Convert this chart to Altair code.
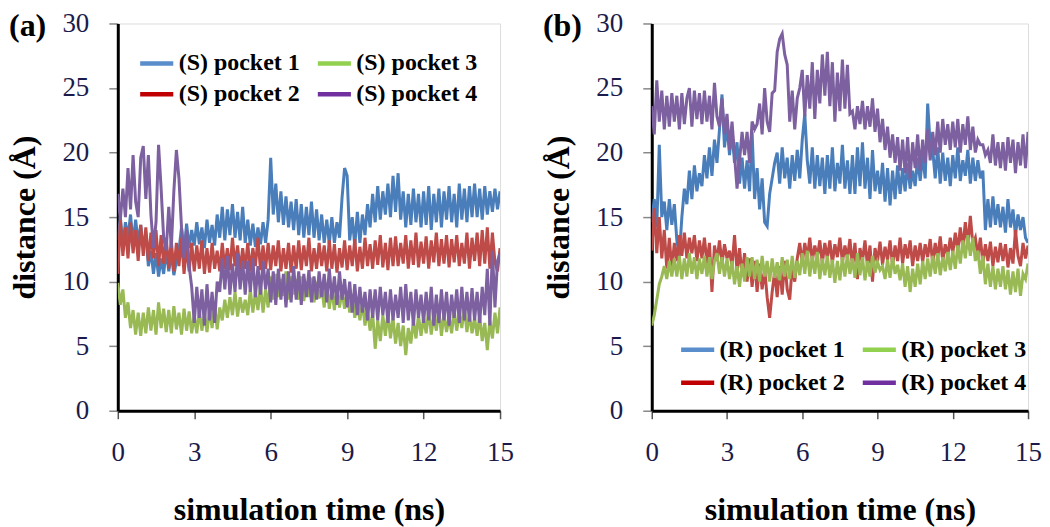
import altair as alt
import pandas as pd

# sampling grid: 0.0 .. 15.0 ns every 0.1 ns (151 samples)
TIME = [round(i * 0.1, 1) for i in range(151)]

# ---------------- panel (a): S enantiomer ----------------
S1 = [13.2,15.0,12.8,14.6,13.4,15.2,12.9,14.8,13.0,14.4,
      12.6,13.8,11.2,12.4,10.6,12.2,10.4,11.8,10.6,12.5,
      10.8,12.2,10.5,11.6,12.4,14.2,12.2,14.5,12.6,14.0,
      12.8,14.6,12.9,14.2,12.6,14.8,13.0,14.4,12.8,15.2,
      13.4,15.8,13.2,15.6,13.6,16.0,13.4,15.4,13.2,15.8,
      13.0,14.8,12.8,14.5,12.7,14.2,12.9,14.6,13.0,14.8,
      19.6,15.2,17.6,14.6,17.0,14.4,16.6,14.2,16.2,14.0,
      16.4,13.6,16.0,13.4,15.8,13.6,16.2,13.4,15.6,13.2,
      15.2,13.0,14.8,12.9,15.0,13.0,14.6,13.4,16.5,18.8,
      18.2,13.2,15.0,12.8,15.4,13.0,15.2,13.6,16.0,14.2,
      16.8,14.6,17.4,14.8,17.0,15.2,17.6,15.0,18.2,15.4,
      18.4,14.8,17.0,14.2,16.8,14.4,17.2,14.6,16.8,14.2,
      17.0,14.4,17.4,14.0,16.8,14.6,17.2,14.2,17.0,14.8,
      17.4,14.6,16.8,14.2,17.6,14.8,17.2,14.6,17.4,15.0,
      17.6,15.0,17.2,14.8,17.4,15.2,17.0,15.4,17.2,15.6,
      17.0]
S2 = [10.6,14.8,12.0,14.2,11.8,14.6,12.2,14.0,11.6,14.4,
      12.0,14.2,11.6,13.8,11.8,14.0,11.2,13.6,11.4,13.4,
      11.0,13.2,10.8,13.0,11.2,13.4,10.6,12.8,10.8,13.0,
      10.8,12.8,11.0,13.2,10.6,12.6,10.7,13.0,11.0,12.4,
      10.8,13.0,11.0,12.6,10.9,13.4,11.2,12.8,10.8,12.6,
      11.0,13.0,10.8,12.6,11.2,13.4,10.9,12.8,11.0,13.0,
      10.9,12.8,11.2,13.2,10.8,12.6,11.0,13.0,10.7,12.8,
      11.0,13.2,10.9,12.8,11.2,13.4,10.8,12.6,11.0,13.0,
      11.2,12.8,10.8,13.2,11.0,12.9,10.7,12.6,11.1,13.2,
      10.9,12.8,11.2,13.3,10.8,12.7,11.0,13.4,11.2,12.9,
      11.0,13.2,11.3,13.6,11.1,13.0,10.9,13.4,11.2,13.5,
      11.2,13.0,11.4,13.6,11.0,13.2,11.3,13.8,11.1,13.1,
      11.4,13.5,11.0,13.2,11.5,13.8,11.2,13.3,11.4,13.6,
      11.1,13.3,11.5,13.6,11.2,13.0,11.4,13.8,11.0,13.4,
      11.6,13.8,11.2,14.0,11.4,14.2,11.0,13.8,11.5,10.8,
      12.6]
S3 = [9.9,8.2,9.4,7.2,8.4,6.4,7.8,5.9,7.6,5.8,
      7.6,6.0,8.0,6.2,7.8,5.9,8.4,6.4,7.9,6.1,
      7.8,6.0,8.1,6.3,7.6,5.9,7.9,6.2,7.7,6.0,
      7.4,6.0,7.8,6.2,7.5,6.1,7.9,6.4,8.2,6.3,
      8.0,7.0,8.6,7.2,8.8,7.4,9.2,7.3,8.8,7.6,
      8.6,7.4,9.4,7.6,9.2,7.8,9.7,7.6,9.4,8.0,
      10.4,8.6,10.6,8.8,10.2,8.9,10.8,8.6,10.4,9.0,
      10.2,8.6,10.4,8.5,10.0,8.8,10.3,8.4,10.0,8.7,
      9.6,8.0,9.9,7.9,9.4,7.8,9.7,8.0,9.3,7.9,
      9.2,7.6,9.0,7.2,8.6,7.0,8.4,6.6,7.8,6.2,
      7.6,4.8,7.0,5.4,7.4,5.8,7.6,5.6,7.2,5.2,
      6.8,5.0,6.6,4.3,6.4,5.2,7.0,5.6,7.4,5.8,
      7.2,6.0,7.8,5.9,7.4,6.2,7.9,5.8,7.5,6.1,
      7.3,6.0,7.8,6.2,7.6,6.4,8.0,6.1,7.5,6.0,
      7.2,5.8,7.4,5.4,6.8,4.7,7.0,5.6,7.6,6.0,
      8.0]
S4 = [16.8,14.8,17.2,15.0,18.8,15.6,19.8,16.2,15.0,19.6,
      20.5,16.4,19.8,15.2,12.6,14.6,20.6,17.2,13.4,12.4,
      15.8,12.6,17.0,20.2,18.0,14.2,11.8,14.0,11.2,9.6,
      6.8,9.6,7.2,9.4,6.6,9.8,7.0,9.2,6.8,10.0,
      9.2,11.8,9.4,12.0,9.0,11.4,9.2,12.2,9.4,11.6,
      9.0,11.6,9.2,11.8,8.8,11.2,9.0,11.6,9.4,11.0,
      8.4,10.8,8.2,11.0,8.6,10.6,8.0,10.8,8.4,11.2,
      8.6,10.8,8.2,10.6,8.8,10.9,8.4,10.4,8.6,10.8,
      8.8,10.6,8.4,11.0,8.6,10.4,8.2,10.8,8.6,10.2,
      8.0,10.0,7.6,9.8,7.4,9.6,7.6,9.2,7.0,9.4,
      7.2,9.4,7.0,9.6,7.4,9.2,6.8,9.4,7.0,9.0,
      7.2,9.6,6.8,9.8,7.0,9.2,6.6,9.4,7.2,9.0,
      6.8,9.2,7.0,9.6,6.6,9.0,6.8,9.4,7.0,9.2,
      6.6,9.0,7.2,9.4,6.8,9.6,7.0,9.2,6.9,9.5,
      7.0,9.2,6.8,9.6,7.4,11.0,6.6,12.4,8.0,11.6,
      12.2]

# ---------------- panel (b): R enantiomer ----------------
R1 = [14.6,16.4,14.2,20.6,15.0,16.2,14.0,16.4,14.4,16.0,
      13.2,12.0,15.0,17.2,16.0,18.6,16.4,19.0,17.0,18.4,
      17.4,19.8,18.0,20.4,18.2,21.0,19.2,21.8,24.5,20.4,
      22.2,19.8,21.6,19.2,20.8,17.6,19.6,17.2,19.4,17.0,
      21.6,16.4,18.8,15.6,18.0,14.6,14.3,16.8,18.0,19.2,
      20.0,17.6,20.4,18.0,19.6,17.2,19.8,17.8,20.2,18.0,
      21.0,23.0,19.4,17.6,20.4,17.2,19.8,17.4,19.6,16.8,
      19.8,17.2,20.4,17.0,19.2,17.6,20.6,17.2,19.4,16.8,
      19.8,16.8,20.4,17.4,20.8,17.2,19.6,16.4,20.2,17.0,
      18.6,16.8,19.2,16.2,18.8,15.9,18.6,16.4,19.0,16.8,
      18.8,17.0,19.2,17.2,18.6,17.4,19.6,17.8,19.8,18.0,
      23.8,20.6,20.2,18.0,20.4,17.6,20.0,17.8,19.6,17.4,
      19.8,18.0,20.4,17.8,19.4,18.2,20.2,17.6,19.6,17.8,
      19.4,18.0,18.6,14.0,16.4,14.2,16.6,14.4,16.0,14.2,
      15.8,13.8,16.4,14.2,15.6,13.6,15.2,14.0,15.0,13.4,
      13.0]
R2 = [12.4,15.7,12.2,15.0,11.8,14.0,11.0,13.4,10.9,13.0,
      11.6,13.6,12.0,13.8,11.8,13.4,12.2,13.6,11.6,13.2,
      11.8,13.4,11.4,13.0,9.2,12.8,11.6,13.2,11.4,12.9,
      11.8,12.4,11.2,13.6,10.8,12.6,10.4,12.2,10.0,11.8,
      9.6,11.6,9.2,11.4,9.4,11.0,8.8,7.2,9.2,10.8,
      8.8,11.2,9.0,11.6,9.4,8.6,11.2,10.0,11.8,13.0,
      11.4,13.0,11.8,13.4,11.6,12.8,11.9,13.2,11.4,13.0,
      11.8,13.2,11.4,12.9,11.9,13.4,11.5,12.8,11.8,13.3,
      11.2,13.0,10.2,12.6,11.6,13.2,11.2,12.8,10.0,12.6,
      11.6,13.1,11.3,12.7,11.7,13.2,11.2,12.8,11.6,13.4,
      11.4,12.9,11.8,13.2,11.2,12.8,11.6,13.0,11.5,12.9,
      11.9,13.3,11.4,13.0,11.8,13.5,11.6,12.9,12.0,13.4,
      12.2,13.8,12.4,14.2,12.6,14.6,12.8,15.1,12.9,13.4,
      12.0,13.4,11.4,12.9,11.6,13.1,11.2,12.7,11.5,13.0,
      11.6,12.9,11.1,12.6,11.4,14.0,12.0,11.2,13.0,11.8,
      12.8]
R3 = [6.6,7.4,8.6,9.8,10.4,11.2,10.2,11.6,10.4,11.8,
      10.4,12.0,10.2,11.8,10.4,12.2,10.6,11.9,10.2,11.8,
      10.6,12.0,10.4,11.9,10.2,11.6,12.2,10.6,11.9,10.4,
      11.8,10.2,11.6,9.8,11.2,9.6,11.4,10.0,11.9,10.4,
      11.9,10.2,11.7,10.0,12.0,10.4,11.6,10.0,11.8,10.3,
      11.5,10.1,11.9,10.4,11.7,10.2,12.0,10.3,11.6,10.5,
      12.2,10.6,12.4,10.4,12.0,10.6,12.3,10.2,11.8,10.5,
      12.0,10.3,11.7,9.9,11.6,10.1,11.9,10.4,12.1,10.6,
      11.8,10.3,12.2,10.5,11.9,10.1,11.6,10.4,12.0,10.7,
      11.5,10.9,11.2,10.2,11.7,10.3,11.9,10.6,11.3,10.1,
      11.4,9.6,11.2,9.2,11.0,9.6,11.4,9.8,11.6,10.2,
      11.8,10.4,12.0,10.6,12.2,10.5,11.9,10.8,12.3,10.9,
      12.4,11.0,12.8,11.4,13.2,11.8,13.6,12.0,13.4,11.6,
      12.4,10.6,12.0,9.8,11.4,9.6,11.2,9.4,11.0,9.6,
      11.2,9.4,10.9,9.0,10.8,9.2,11.0,8.9,10.6,10.2,
      11.4]
R4 = [23.6,21.4,25.6,22.4,24.8,21.8,24.4,22.0,24.6,22.4,
      24.4,21.8,24.6,22.2,24.2,25.0,22.0,24.8,22.6,24.6,
      22.2,24.8,22.4,24.4,21.8,25.4,22.8,22.0,24.2,21.4,
      23.0,20.2,22.4,19.8,17.2,19.4,21.6,19.8,21.6,19.2,
      22.4,21.8,22.2,23.8,21.4,25.0,22.4,21.6,24.6,24.8,
      27.8,28.8,29.2,27.6,26.8,22.4,24.8,21.8,24.2,25.0,
      26.4,22.8,26.0,23.4,27.0,22.6,26.4,23.8,27.6,24.4,
      27.8,23.6,27.0,22.4,26.2,23.2,27.2,23.4,26.8,23.0,
      23.2,21.8,23.6,22.2,24.0,21.8,23.6,22.0,24.2,21.6,
      23.4,20.8,22.6,20.2,22.0,19.6,21.4,19.2,21.2,18.6,
      21.0,18.4,21.2,18.0,20.8,18.8,21.4,18.6,21.0,19.2,
      21.8,19.4,21.6,19.8,22.4,20.0,22.6,20.6,22.2,20.2,
      22.4,20.4,22.6,20.0,22.2,20.6,22.8,20.2,22.0,20.0,
      21.0,20.6,20.6,19.8,20.2,19.2,21.4,19.0,20.8,18.8,
      20.8,18.6,21.2,19.2,21.0,18.4,20.8,19.0,21.4,18.8,
      21.6]

S_NAMES = ["(S) pocket 1", "(S) pocket 2", "(S) pocket 3", "(S) pocket 4"]
R_NAMES = ["(R) pocket 1", "(R) pocket 2", "(R) pocket 3", "(R) pocket 4"]
LINE_COLORS = ["#4A7EBB", "#BE4B48", "#98B954", "#7D60A0"]
LEGEND_COLORS = ["#5A8DCC", "#C00000", "#92D050", "#7030A0"]
X_TICKS = [0, 3, 6, 9, 12, 15]
Y_TICKS = [0, 5, 10, 15, 20, 25, 30]

FONT = "Liberation Serif"
LABEL_COLOR = "#1b1b4b"


def make_df(names, series):
    rows = []
    for k, (name, vals) in enumerate(zip(names, series)):
        for t, v in zip(TIME, vals):
            rows.append({"t": t, "d": v, "s": name, "k": k})
    return pd.DataFrame(rows)


def panel(names, series, tag, width, legend_x, legend_y, row_pad):
    df = make_df(names, series)
    x = alt.X("t:Q", scale=alt.Scale(domain=[0, 15], nice=False, zero=False),
              axis=alt.Axis(values=X_TICKS, title="simulation time (ns)",
                            grid=False, domainColor="black", domainWidth=3,
                            tickColor="#555555", tickWidth=1.5, tickSize=8,
                            labelFont=FONT, labelFontSize=27, labelColor=LABEL_COLOR,
                            labelPadding=21, labelFlush=False,
                            titleFont=FONT, titleFontSize=32, titleFontWeight="bold",
                            titleColor="black", titlePadding=29))
    y = alt.Y("d:Q", scale=alt.Scale(domain=[0, 30], nice=False),
              axis=alt.Axis(values=Y_TICKS, title="distance (Å)",
                            grid=False, domainColor="black", domainWidth=3,
                            tickColor="#888888", tickWidth=1.5, tickSize=9,
                            labelFont=FONT, labelFontSize=27, labelColor=LABEL_COLOR,
                            labelPadding=20, labelFlush=False,
                            titleFont=FONT, titleFontSize=32, titleFontWeight="bold",
                            titleColor="black", titlePadding=20))
    lines = alt.Chart(df).mark_line(strokeWidth=3, clip=True).encode(
        x=x, y=y,
        color=alt.Color("s:N", scale=alt.Scale(domain=names, range=LINE_COLORS), legend=None),
        order="t:Q",
        detail="s:N",
    )
    leg_order = [names[0], names[2], names[1], names[3]]
    leg_colors = [LEGEND_COLORS[0], LEGEND_COLORS[2], LEGEND_COLORS[1], LEGEND_COLORS[3]]
    legend_layer = alt.Chart(df).mark_point(opacity=0).encode(
        x="t:Q", y="d:Q",
        color=alt.Color("s:N", scale=alt.Scale(domain=leg_order, range=leg_colors),
                        legend=alt.Legend(title=None, orient="none", legendX=legend_x,
                                          legendY=legend_y, columns=2, direction="horizontal",
                                          symbolType="stroke", symbolStrokeWidth=4.5,
                                          symbolSize=1100, symbolOpacity=1,
                                          labelFont=FONT, labelFontSize=24,
                                          labelFontWeight="bold", labelColor="black",
                                          labelOffset=3, columnPadding=8,
                                          rowPadding=row_pad, padding=0,
                                          labelLimit=300)),
    )
    tag_df = pd.DataFrame({"tag": [tag]})
    tag_text = alt.Chart(tag_df).mark_text(
        align="left", baseline="top", font=FONT, fontSize=32, fontWeight="bold",
        color="black").encode(
        x=alt.value(-109), y=alt.value(-12), text="tag:N")
    return alt.layer(lines, legend_layer, tag_text).resolve_scale(color="independent").properties(
        width=width, height=388)


pa = panel(S_NAMES, [S1, S2, S3, S4], "(a)", 383, 20, 21, -2)
pb = panel(R_NAMES, [R1, R2, R3, R4], "(b)", 377, 27, 308, 2)

chart = alt.hconcat(pa, pb, spacing=28).properties(padding=0).configure_view(
    stroke="black", strokeWidth=2.5).configure(background="white")

chart.save("out.html", embed_options={"renderer": "svg", "actions": False})
